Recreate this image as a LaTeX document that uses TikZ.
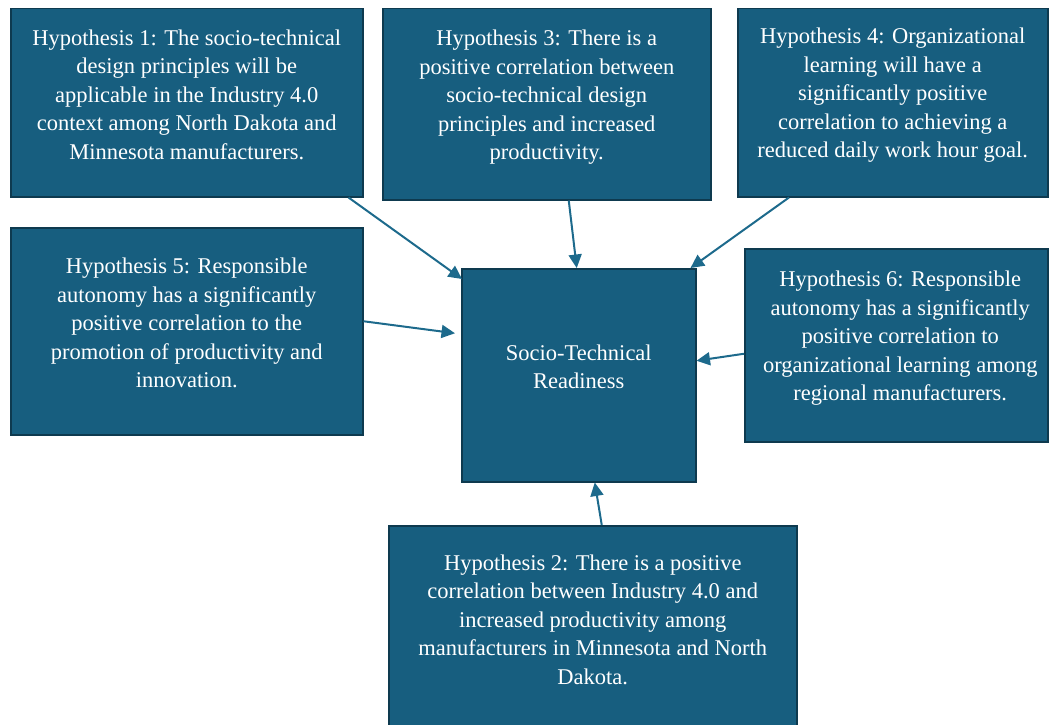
\documentclass[tikz,border=0pt]{standalone}
\usepackage{fontspec}
\setmainfont{Liberation Serif}
\usetikzlibrary{arrows.meta}
\definecolor{boxblue}{HTML}{175E7F}
\definecolor{boxedge}{HTML}{0E3A4F}
\definecolor{arrowblue}{HTML}{1D6A8C}
\tikzset{
	hypbox/.style={rectangle,draw=boxedge,fill=boxblue,line width=1.5pt,anchor=north west,inner sep=0pt},
	hyptext/.style={text=white,align=center,inner sep=0pt,font=\fontsize{22.5}{28.5}\selectfont},
	link/.style={draw=arrowblue,line width=2pt,-{Triangle[length=13.5pt,width=13pt]}}
}
\begin{document}
\begin{tikzpicture}[x=1pt,y=-1pt]
		\useasboundingbox (0,0) rectangle (1049,725);
		\node[hypbox,minimum width=352pt,minimum height=188pt](h1) at (10,8) {};
		\node[hypbox,minimum width=328pt,minimum height=191pt](h3) at (382,8) {};
		\node[hypbox,minimum width=310pt,minimum height=188pt](h4) at (737,8) {};
		\node[hypbox,minimum width=352pt,minimum height=207pt](h5) at (10,227) {};
		\node[hypbox,minimum width=234pt,minimum height=213pt](rd) at (461,268) {};
		\node[hypbox,minimum width=303pt,minimum height=193pt](h6) at (744,248) {};
		\node[hypbox,minimum width=408pt,minimum height=215pt](h2) at (388,525) {};
		\node[hyptext](t1) at ([yshift=8pt]h1.center) {Hypothesis 1: The socio-technical\\design principles will be\\applicable in the Industry 4.0\\context among North Dakota and\\Minnesota manufacturers.};
		\node[hyptext](t3) at ([yshift=7pt]h3.center) {Hypothesis 3: There is a\\positive correlation between\\socio-technical design\\principles and increased\\productivity.};
		\node[hyptext](t4) at ([yshift=7.5pt]h4.center) {Hypothesis 4: Organizational\\learning will have a\\significantly positive\\correlation to achieving a\\reduced daily work hour goal.};
		\node[hyptext](t5) at ([yshift=8pt]h5.center) {Hypothesis 5: Responsible\\autonomy has a significantly\\positive correlation to the\\promotion of productivity and\\innovation.};
		\node[hyptext](tr) at ([yshift=8.5pt]rd.center) {Socio-Technical\\Readiness};
		\node[hyptext](t6) at ([xshift=4pt,yshift=7pt]h6.center) {Hypothesis 6: Responsible\\autonomy has a significantly\\positive correlation to\\organizational learning among\\regional manufacturers.};
		\node[hyptext](t2) at ([yshift=-94.5pt]h2.north) {Hypothesis 2: There is a positive\\correlation between Industry 4.0 and\\increased productivity among\\manufacturers in Minnesota and North\\Dakota.};
		\draw[link] ([xshift=-15pt]h1.south east) -- ([xshift=1pt,yshift=-11pt]rd.north west);
		\draw[link] ([xshift=22pt]h3.south) -- ([xshift=-2pt]rd.north);
		\draw[link] ([xshift=52pt]h4.south west) -- ([xshift=-6pt]rd.north east);
		\draw[link] ([yshift=10pt]h5.east) -- ([xshift=-6pt,yshift=42pt]rd.west);
		\draw[link] ([yshift=-8.5pt]h6.west) -- ([yshift=14.5pt]rd.east);
		\draw[link] ([xshift=9pt]h2.north) -- ([xshift=16pt]rd.south);
	\end{tikzpicture}
\end{document}
